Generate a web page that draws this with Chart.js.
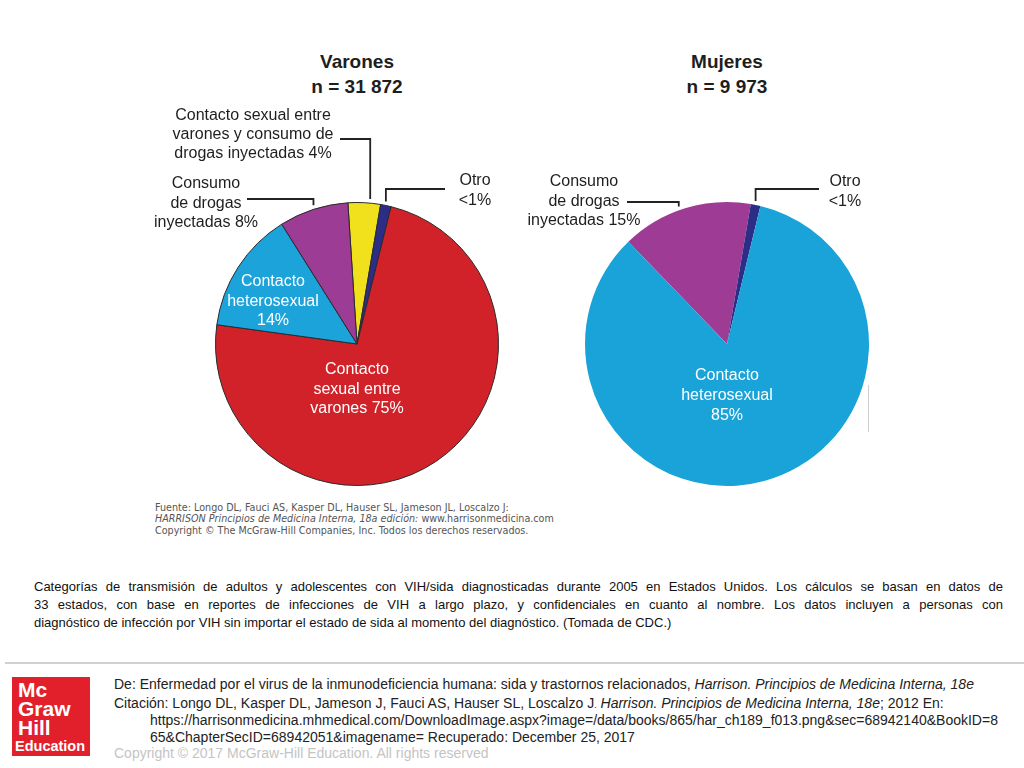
<!DOCTYPE html>
<html>
<head>
	<meta charset="UTF-8">
	<title>Categorías de transmisión VIH/sida 2005</title>
	<script src="https://cdn.jsdelivr.net/npm/chart.js@4.4.0/dist/chart.umd.min.js"></script>
	<style>
		body {
			margin:0;
			padding:0;
			width:1024px;
			height:768px;
			position:relative;
			overflow:hidden;
			background:#fff;
			font-family:"Liberation Sans", Arial, sans-serif;
			color:#1a1a1a;
		}
		canvas, .t { position:absolute; }
		.title { font-weight:bold; font-size:19px; line-height:25px; text-align:center; width:200px; color:#1e1e1e; }
		.lbl { font-size:16px; line-height:19.5px; text-align:center; width:200px; color:#1e1e1e; white-space:nowrap; }
		.in { color:#fff; }
		.src { font-family:"DejaVu Sans", Verdana, sans-serif; font-size:9.6px; line-height:11px; color:#555; left:155px; white-space:nowrap; }
		.cap { left:34px; width:969px; font-size:13px; line-height:18px; color:#111; text-align:justify; text-align-last:justify; }
		.ft { left:114px; font-size:14px; line-height:16px; color:#222; white-space:nowrap; }
		#rule { left:5px; top:662px; width:1019px; height:2px; background:#d0d0d0; }
		#logo { left:12px; top:677px; width:78px; height:79px; background:#e2202b; color:#fff; font-weight:bold; }
	</style>
</head>
<body>
	<canvas id="men" width="380" height="400" style="left:140px;top:100px"></canvas>
	<canvas id="women" width="380" height="400" style="left:520px;top:100px"></canvas>

	<div class="t title" style="left:257px;top:49px">Varones<br>n = 31 872</div>
	<div class="t title" style="left:627px;top:49px">Mujeres<br>n = 9 973</div>

	<div class="t lbl" style="left:153px;top:105px;line-height:19px">Contacto sexual entre<br>varones y consumo de<br>drogas inyectadas 4%</div>
	<div class="t lbl" style="left:106px;top:173px">Consumo<br>de drogas<br>inyectadas 8%</div>
	<div class="t lbl" style="left:375px;top:170px;line-height:20px">Otro<br>&lt;1%</div>
	<div class="t lbl in" style="left:173px;top:271px">Contacto<br>heterosexual<br>14%</div>
	<div class="t lbl in" style="left:257px;top:359px">Contacto<br>sexual entre<br>varones 75%</div>

	<div class="t lbl" style="left:484px;top:171px">Consumo<br>de drogas<br>inyectadas 15%</div>
	<div class="t lbl" style="left:745px;top:171px;line-height:20px">Otro<br>&lt;1%</div>
	<div class="t lbl in" style="left:627px;top:365px;line-height:20px">Contacto<br>heterosexual<br>85%</div>

	<div class="t src" style="top:502px">Fuente: Longo DL, Fauci AS, Kasper DL, Hauser SL, Jameson JL, Loscalzo J:</div>
	<div class="t src" style="top:513px"><i>HARRISON Principios de Medicina Interna, 18a edición:</i> www.harrisonmedicina.com</div>
	<div class="t src" style="top:525px">Copyright © The McGraw-Hill Companies, Inc. Todos los derechos reservados.</div>

	<div class="t cap" style="top:578px">Categorías de transmisión de adultos y adolescentes con VIH/sida diagnosticadas durante 2005 en Estados Unidos. Los cálculos se basan en datos de</div>
	<div class="t cap" style="top:596px">33 estados, con base en reportes de infecciones de VIH a largo plazo, y confidenciales en cuanto al nombre. Los datos incluyen a personas con</div>
	<div class="t cap" style="top:614px;text-align-last:left">diagnóstico de infección por VIH sin importar el estado de sida al momento del diagnóstico. (Tomada de CDC.)</div>

	<div class="t" id="rule"></div>
	<div class="t" id="logo">
		<div class="t" style="left:6px;top:3px;font-size:21px;line-height:19px">Mc<br>Graw<br>Hill</div>
		<div class="t" style="left:3px;top:61px;font-size:14.5px;line-height:16px">Education</div>
	</div>
	<div class="t ft" style="top:676px">De: Enfermedad por el virus de la inmunodeficiencia humana: sida y trastornos relacionados, <i>Harrison. Principios de Medicina Interna, 18e</i></div>
	<div class="t ft" style="top:695px">Citación: Longo DL, Kasper DL, Jameson J, Fauci AS, Hauser SL, Loscalzo J<span style="font-size:9px">.</span> <i>Harrison. Principios de Medicina Interna, 18e</i>; 2012 En:</div>
	<div class="t ft" style="top:712px;left:150px">https://harrisonmedicina.mhmedical.com/DownloadImage.aspx?image=/data/books/865/har_ch189_f013.png&amp;sec=68942140&amp;BookID=8</div>
	<div class="t ft" style="top:729px;left:150px">65&amp;ChapterSecID=68942051&amp;imagename= Recuperado: December 25, 2017</div>
	<div class="t ft" style="top:745px;color:#c4c4c4">Copyright © 2017 McGraw-Hill Education. All rights reserved</div>

	<div class="t" style="left:868px;top:385px;width:1px;height:47px;background:#cfcfcf"></div>

	<script>
		// Varones, clockwise from just left of 12 o'clock
		const menLabels = ['Contacto sexual entre varones y consumo de drogas inyectadas', 'Otro', 'Contacto sexual entre varones', 'Contacto heterosexual', 'Consumo de drogas inyectadas'];
		const menValues = [3.7, 1.2, 73.3, 13.9, 7.9];
		const menColors = ['#f1e01c', '#2b2d86', '#d1222a', '#1ba3da', '#9c3c95'];

		// Mujeres
		const womenLabels = ['Consumo de drogas inyectadas', 'Otro', 'Contacto heterosexual'];
		const womenValues = [14.9, 1.1, 84.0];
		const womenColors = ['#9e3b94', '#2b2d86', '#1aa3d8'];

		// leader lines: from the label (x,y in canvas px) across and down to the slice edge
		const leaderPlugin = {
			id: 'leaders',
			afterDraw(chart, args, opts) {
				const ctx = chart.ctx;
				const arcs = chart.getDatasetMeta(0).data;
				ctx.save();
				ctx.strokeStyle = '#222';
				ctx.lineWidth = 1.8;
				(opts.lines || []).forEach(l => {
					const a = arcs[l.index];
					const p = a.getProps(['x', 'y', 'startAngle', 'endAngle', 'outerRadius'], true);
					const ang = p.startAngle + (p.endAngle - p.startAngle) * (l.frac || 0.5);
					const px = p.x + Math.cos(ang) * p.outerRadius;
					const py = p.y + Math.sin(ang) * p.outerRadius;
					ctx.beginPath();
					ctx.moveTo(l.x, l.y);
					ctx.lineTo(px, l.y);
					ctx.lineTo(px, py - 4);
					ctx.stroke();
				});
				ctx.restore();
			}
		};

		function makePie(id, labels, values, colors, rotation, border, padding, lines) {
			return new Chart(document.getElementById(id), {
				type: 'pie',
				data: {
					labels: labels,
					datasets: [{
						data: values,
						backgroundColor: colors,
						borderColor: '#2a2a2a',
						borderWidth: border
					}]
				},
				options: {
					responsive: false,
					animation: false,
					rotation: rotation,
					layout: { padding: padding },
					plugins: {
						legend: { display: false },
						tooltip: { enabled: false },
						leaders: { lines: lines }
					}
				},
				plugins: [leaderPlugin]
			});
		}

		makePie('men', menLabels, menValues, menColors, -3.7, 1,
			{ left: 75, right: 21, top: 102, bottom: 14 },
			[{ index: 0, x: 200, y: 39, frac: 0.68 }, { index: 4, x: 107, y: 99 }, { index: 1, x: 305, y: 89 }]);

		makePie('women', womenLabels, womenValues, womenColors, -44, 0,
			{ left: 65, right: 31, top: 102, bottom: 14 },
			[{ index: 0, x: 107, y: 102, frac: 0.45 }, { index: 1, x: 299, y: 89 }]);
	</script>
</body>
</html>
